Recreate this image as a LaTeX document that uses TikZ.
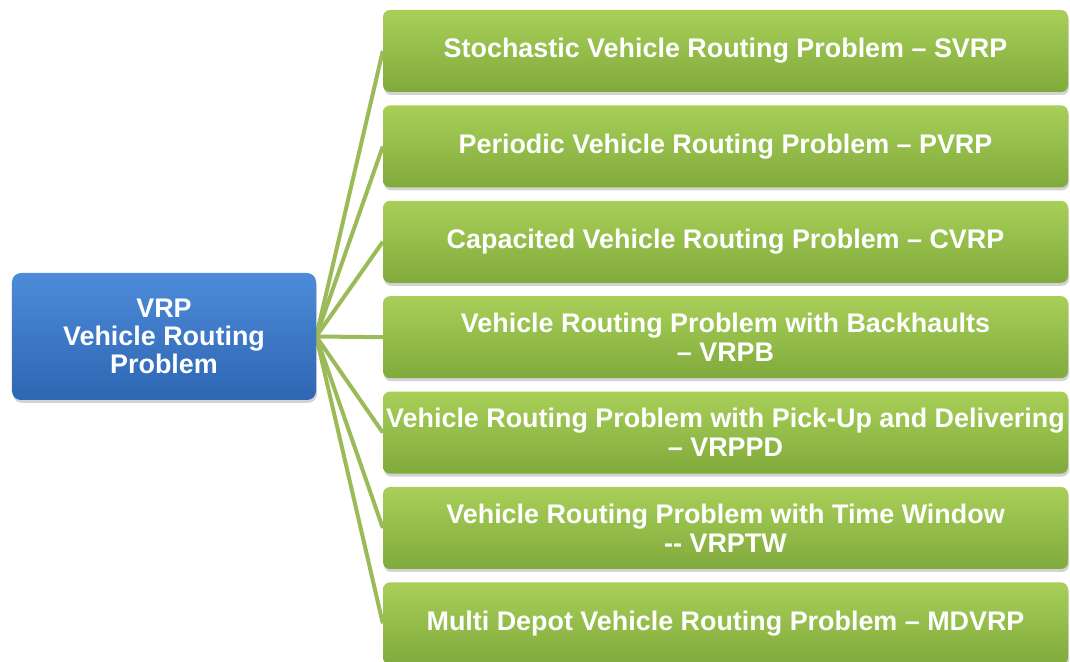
\documentclass[tikz,border=0pt]{standalone}
\usepackage{fontspec}
\setmainfont{Liberation Sans}
\usetikzlibrary{positioning,shadows,backgrounds}

\definecolor{vrptop}{HTML}{4D8BD9}
\definecolor{vrpbot}{HTML}{2E66B3}
\definecolor{typetop}{HTML}{A8CF58}
\definecolor{typebot}{HTML}{80AA3C}
\definecolor{linkgreen}{HTML}{9BBB59}

\tikzset{
  mainbox/.style={rounded corners=9bp, top color=vrptop, bottom color=vrpbot,
    minimum width=304bp, minimum height=127bp, align=center, text=white,
    font=\fontsize{27}{28}\selectfont\bfseries,
    drop shadow={shadow xshift=1bp, shadow yshift=-3bp, opacity=.35}},
  typebox/.style={rounded corners=7bp, top color=typetop, bottom color=typebot,
    minimum width=685bp, minimum height=82bp, align=center, text=white,
    inner xsep=1bp, font=\fontsize{27}{29}\selectfont\bfseries,
    drop shadow={shadow xshift=1bp, shadow yshift=-3bp, opacity=.35}},
  link/.style={draw=linkgreen, line width=4bp}
}

\begin{document}
\begin{tikzpicture}[x=1bp,y=1bp]
  \useasboundingbox (0,0) rectangle (1070,662);
  \node[mainbox] (vrp) at (164,325.5) {VRP\\Vehicle Routing\\Problem};
  % the seven variants, top to bottom
  \foreach \name/\txt [count=\i] in {
      svrp/{Stochastic Vehicle Routing Problem – SVRP},
      pvrp/{Periodic Vehicle Routing Problem – PVRP},
      cvrp/{Capacited Vehicle Routing Problem – CVRP},
      vrpb/{Vehicle Routing Problem with Backhaults\\– VRPB},
      vrppd/{Vehicle Routing Problem with Pick-Up and Delivering\\– VRPPD},
      vrptw/{Vehicle Routing Problem with Time Window\\-{}- VRPTW},
      mdvrp/{Multi Depot Vehicle Routing Problem – MDVRP}}
    \node[typebox] (\name) at (725.5,{611-(\i-1)*95.4}) {\txt};
  \begin{scope}[on background layer]
    \foreach \name in {svrp,pvrp,cvrp,vrpb,vrppd,vrptw,mdvrp}
      \draw[link] (vrp.east) -- (\name.west);
  \end{scope}
\end{tikzpicture}
\end{document}
